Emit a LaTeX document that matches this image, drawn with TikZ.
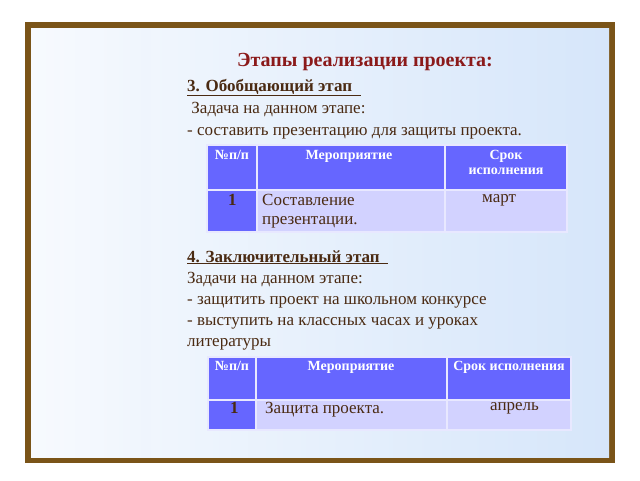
\documentclass[tikz,border=0pt]{standalone}
\usepackage{fontspec}
\setmainfont{Liberation Serif}
\definecolor{txt}{HTML}{4A2A12}
\definecolor{ttl}{HTML}{8B1A1A}
\definecolor{hdr}{HTML}{6666FF}
\definecolor{cel}{HTML}{D2D2FF}
\definecolor{frm}{HTML}{7A5418}
\definecolor{bg}{HTML}{D6E6FA}
\tikzset{
  body/.style={anchor=base west,text=txt,font=\fontsize{17}{19}\selectfont,inner sep=0},
  hcell/.style={fill=hdr,draw=white!85!hdr,line width=1.5pt},
  ccell/.style={fill=cel,draw=white!85!hdr,line width=1.5pt},
  htxt/.style={text=white,font=\bfseries\fontsize{14}{15}\selectfont,align=center,anchor=north,inner sep=0},
  ctxt/.style={text=txt,font=\fontsize{17}{19}\selectfont,anchor=north west,align=left,inner sep=0}
}
\begin{document}
\begin{tikzpicture}[x=1pt,y=-1pt]
\useasboundingbox (0,0) rectangle (640,480);
\fill[white] (0,0) rectangle (640,480);
\fill[frm] (25,22) rectangle (615,463);
\shade[left color=white!80!bg,right color=bg] (31,28) rectangle (609,457);
\shade[left color=white!80!bg,right color=white!60!bg,opacity=0.6] (60,28) rectangle (150,457);
\node[text=ttl,font=\bfseries\fontsize{20}{22}\selectfont] (title) at (365,62) {Этапы реализации проекта:};
\node[body,font=\bfseries\fontsize{17}{19}\selectfont] (s3) at (187,91) {\underline{3. Обобщающий этап\ \ }};
\node[body] (t3a) at (187,113) {\ Задача на данном этапе:};
\node[body] (t3b) at (187,135) {- составить презентацию для защиты проекта.};
% table 1
\draw[hcell] (207,145) rectangle (257,190);
\draw[hcell] (257,145) rectangle (445,190);
\draw[hcell] (445,145) rectangle (567,190);
\draw[hcell] (207,190) rectangle (257,232);
\draw[ccell] (257,190) rectangle (445,232);
\draw[ccell] (445,190) rectangle (567,232);
\node[htxt] (a1) at (232,150) {№п/п};
\node[htxt] (a2) at (349,150) {Мероприятие};
\node[htxt] (a3) at (506,150) {Срок\\исполнения};
\node[ctxt,font=\bfseries\fontsize{17}{19}\selectfont] (a4) at (228,194) {1};
\node[ctxt] (a5) at (262,194) {Составление\\презентации.};
\node[ctxt] (a6) at (482,194) {март};
\node[body,font=\bfseries\fontsize{17}{19}\selectfont] (s4) at (187,262) {\underline{4. Заключительный этап\ \ }};
\node[body] (t4a) at (187,283) {Задачи на данном этапе:};
\node[body] (t4b) at (187,304) {- защитить проект на школьном конкурсе};
\node[body] (t4c) at (187,325) {- выступить на классных часах и уроках};
\node[body] (t4d) at (187,346) {литературы};
% table 2
\draw[hcell] (208,357) rectangle (256,400);
\draw[hcell] (256,357) rectangle (447,400);
\draw[hcell] (447,357) rectangle (571,400);
\draw[hcell] (208,400) rectangle (256,430);
\draw[ccell] (256,400) rectangle (447,430);
\draw[ccell] (447,400) rectangle (571,430);
\node[htxt] (b1) at (232,361) {№п/п};
\node[htxt] (b2) at (351,361) {Мероприятие};
\node[htxt] (b3) at (509,361) {Срок исполнения};
\node[ctxt,font=\bfseries\fontsize{17}{19}\selectfont] (b4) at (230,402) {1};
\node[ctxt] (b5) at (265,402) {Защита проекта.};
\node[ctxt] (b6) at (490,402) {апрель};
\end{tikzpicture}
\end{document}
